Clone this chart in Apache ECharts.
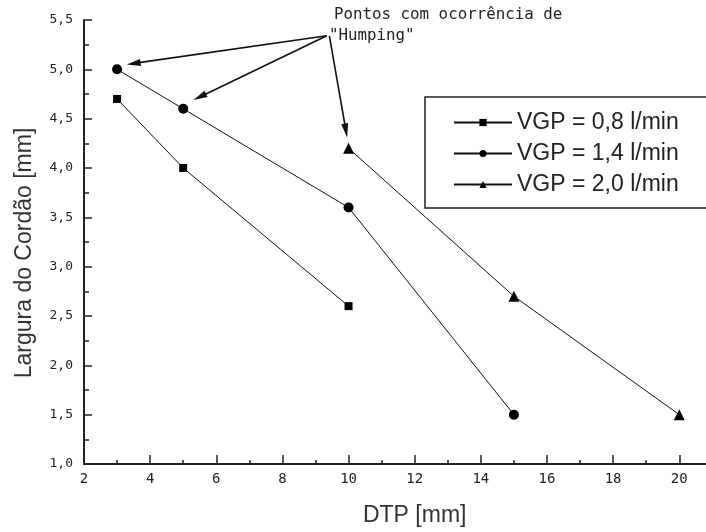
<!DOCTYPE html>
<html>
<head>
<meta charset="utf-8">
<title>Largura do Cordão x DTP</title>
<script src="https://cdn.jsdelivr.net/npm/echarts@6/dist/echarts.min.js"></script>
<style>
  html, body { margin: 0; padding: 0; background: #fff; }
  #chart { width: 706px; height: 532px; }
</style>
</head>
<body>
<div id="chart"></div>
<script>
// DTP (mm) and bead width (mm) for each shielding gas flow rate
const seriesNames = ['VGP = 0,8 l/min', 'VGP = 1,4 l/min', 'VGP = 2,0 l/min'];
const dtp08 = [3, 5, 10];
const width08 = [4.7, 4.0, 2.6];
const dtp14 = [3, 5, 10, 15];
const width14 = [5.0, 4.6, 3.6, 1.5];
const dtp20 = [10, 15, 20];
const width20 = [4.2, 2.7, 1.5];

// Axis ranges
const xMin = 2, xMax = 22, xStep = 2;
const yMin = 1.0, yMax = 5.5, yStep = 0.5;

// Note text and the arrows pointing at the humping points (data coordinates)
const noteLines = ['Pontos com ocorrência de', '"Humping"'];
const arrowFrom = [[9.34, 5.34], [9.34, 5.34], [9.42, 5.34]];
const arrowTo = [[3.5, 5.06], [5.5, 4.72], [9.92, 4.38]];

const pairs = (xs, ys) => xs.map((x, i) => [x, ys[i]]);

const chart = echarts.init(document.getElementById('chart'), null, { renderer: 'canvas' });

const tickFont = { fontFamily: 'DejaVu Sans Mono', fontSize: 13, color: '#222' };
const comma = v => v.toFixed(1).replace('.', ',');

const baseSeries = {
  type: 'line',
  color: '#000',
  lineStyle: { color: '#111', width: 1 },
  itemStyle: { color: '#000' },
  showSymbol: true,
  z: 3
};

chart.setOption({
  animation: false,
  backgroundColor: '#fff',
  grid: { left: 84, top: 20, bottom: 68, right: -39.4, outerBoundsMode: 'none', containLabel: false },
  xAxis: {
    type: 'value',
    min: xMin, max: xMax, interval: xStep,
    name: 'DTP [mm]',
    nameLocation: 'middle',
    nameGap: 40,
    nameTextStyle: { fontFamily: 'Liberation Sans', fontSize: 23, color: '#333' },
    axisLine: { show: true, onZero: false, lineStyle: { color: '#222', width: 2 } },
    axisTick: { show: true, inside: true, length: 9, lineStyle: { color: '#222', width: 1.5 } },
    minorTick: { show: true, splitNumber: 2, length: 4, lineStyle: { color: '#222', width: 1.5 } },
    axisLabel: Object.assign({ margin: 8, formatter: v => String(v) }, tickFont, { fontSize: 14 }),
    splitLine: { show: false },
    minorSplitLine: { show: false }
  },
  yAxis: {
    type: 'value',
    min: yMin, max: yMax, interval: yStep,
    name: 'Largura do Cordão [mm]',
    nameLocation: 'middle',
    nameGap: 48,
    nameTextStyle: { fontFamily: 'Liberation Sans', fontSize: 23, color: '#333', padding: [0, 22, 0, 0] },
    axisLine: { show: true, onZero: false, lineStyle: { color: '#222', width: 2 } },
    axisTick: { show: true, inside: true, length: 8, lineStyle: { color: '#222', width: 1.5 } },
    minorTick: { show: true, splitNumber: 2, length: 5, lineStyle: { color: '#222', width: 1.5 } },
    axisLabel: Object.assign({ margin: 11, formatter: v => comma(v) }, tickFont),
    splitLine: { show: false },
    minorSplitLine: { show: false }
  },
  legend: {
    orient: 'vertical',
    left: 425, top: 97,
    padding: [10, 80, 8, 28],
    itemGap: 0,
    itemWidth: 58,
    itemHeight: 9,
    itemTextGap: 7,
    borderColor: '#222',
    borderWidth: 1.5,
    backgroundColor: '#fff',
    textStyle: { fontFamily: 'Liberation Sans', fontSize: 23, color: '#222', lineHeight: 31 },
    data: seriesNames
  },
  series: [
    Object.assign({}, baseSeries, {
      name: seriesNames[0],
      symbol: 'rect', symbolSize: 8,
      data: pairs(dtp08, width08)
    }),
    Object.assign({}, baseSeries, {
      name: seriesNames[1],
      symbol: 'circle', symbolSize: 10,
      data: pairs(dtp14, width14),
      markLine: {
        silent: true,
        symbol: ['none', 'triangle'],
        symbolSize: [7, 14],
        label: { show: false },
        lineStyle: { color: '#111', width: 1.6, type: 'solid' },
        emphasis: { disabled: true },
        data: arrowFrom.map((p, i) => [{ coord: p }, { coord: arrowTo[i] }])
      }
    }),
    Object.assign({}, baseSeries, {
      name: seriesNames[2],
      symbol: 'triangle', symbolSize: 11,
      data: pairs(dtp20, width20)
    })
  ],
  graphic: [
    {
      type: 'text', left: 334, top: 7,
      style: { text: noteLines[0], font: '15.8px "DejaVu Sans Mono"', fill: '#222' }
    },
    {
      type: 'text', left: 329, top: 28,
      style: { text: noteLines[1], font: '15.8px "DejaVu Sans Mono"', fill: '#222' }
    }
  ]
});
</script>
</body>
</html>
